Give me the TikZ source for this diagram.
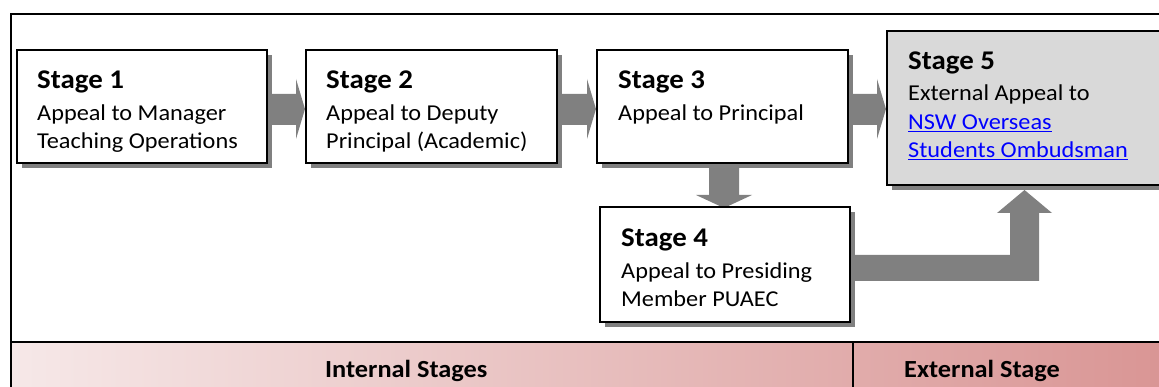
\documentclass[tikz,border=0pt]{standalone}
\usepackage{fontspec}
\setmainfont{Carlito}[FakeStretch=1.07]
\usetikzlibrary{calc,shadows,backgrounds}
\definecolor{arrgray}{HTML}{808080}
\definecolor{boxgray}{HTML}{D9D9D9}
\definecolor{bandL}{HTML}{F6E8E8}
\definecolor{bandR}{HTML}{D99594}
\definecolor{linkblue}{HTML}{0000FF}
\tikzset{
  stagebox/.style={draw=black, line width=1.5pt, fill=white, anchor=north west,
    inner sep=0pt, outer sep=0pt,
    drop shadow={shadow xshift=5pt, shadow yshift=-5pt, opacity=1, fill=arrgray}},
  headtxt/.style={anchor=base west, inner sep=0pt, font=\fontsize{27}{32}\selectfont\bfseries},
  bodytxt/.style={anchor=base west, inner sep=0pt, font=\fontsize{22.7}{27.5}\selectfont},
  bandtxt/.style={anchor=base west, inner sep=0pt, font=\fontsize{24.6}{28}\selectfont\bfseries},
  arr/.style={fill=arrgray, draw=none},
  frameline/.style={draw=black, line width=1.5pt},
}
\newcommand\harrow[2]{%
  \fill[arr] let \p1=(#1.east), \p2=(#2.west) in
    (\x1,-94pt) -- (\x2-10pt,-94pt) -- (\x2-10pt,-79pt) -- (\x2-1pt,-109pt)
    -- (\x2-10pt,-139pt) -- (\x2-10pt,-125pt) -- (\x1,-125pt) -- cycle;}
\begin{document}
\begin{tikzpicture}[x=1pt,y=-1pt]
\useasboundingbox (0,0) rectangle (1159,387);
\clip (0,0) rectangle (1159,387);
% outer frame and band
\shade[left color=bandL, right color=bandR] (11,342) rectangle (1170,400);
\draw[frameline] (11,400) -- (11,14) -- (1170,14);
\draw[frameline] (11,342) -- (1170,342);
\draw[frameline] (853,342) -- (853,400);
\node[bandtxt] (lint) at (325,377) {Internal Stages};
\node[bandtxt] (lext) at (904,377) {External Stage};
% boxes
\node[stagebox, minimum width=250pt, minimum height=113pt] (s1) at (17,50) {};
\node[stagebox, minimum width=251pt, minimum height=113pt] (s2) at (306,50) {};
\node[stagebox, minimum width=251pt, minimum height=113pt] (s3) at (597,50) {};
\node[stagebox, minimum width=250pt, minimum height=115pt] (s4) at (600,207) {};
\node[stagebox, fill=boxgray, minimum width=290pt, minimum height=154pt] (s5) at (887,31) {};
% texts
\node[headtxt] (s1h) at (37,89) {Stage 1};
\node[bodytxt] (s1b) at (37,121) {\parbox[t]{240pt}{Appeal to Manager\\Teaching Operations}};
\node[headtxt] (s2h) at (326,89) {Stage 2};
\node[bodytxt] (s2b) at (326,121) {\parbox[t]{240pt}{Appeal to Deputy\\Principal (Academic)}};
\node[headtxt] (s3h) at (618,89) {Stage 3};
\node[bodytxt] (s3b) at (618,121) {\parbox[t]{240pt}{Appeal to Principal}};
\node[headtxt] (s4h) at (621,247) {Stage 4};
\node[bodytxt] (s4b) at (621,279) {\parbox[t]{240pt}{Appeal to Presiding\\Member PUAEC}};
\node[headtxt] (s5h) at (908,70) {Stage 5};
\node[bodytxt, font=\fontsize{22.7}{28.5}\selectfont] (s5b) at (908,101) {\parbox[t]{260pt}{External Appeal to\\
  {\color{linkblue}\underline{NSW Overseas}}\\
  {\color{linkblue}\underline{Students Ombudsman}}}};
% arrows
\begin{pgfonlayer}{background}
\harrow{s1}{s2}
\harrow{s2}{s3}
\harrow{s3}{s5}
\fill[arr] let \p1=(s3.south), \p2=(s4.north) in
  (709pt,\y1) -- (739pt,\y1) -- (739pt,-195pt) -- (752pt,-195pt) -- (724pt,\y2-1pt)
  -- (696pt,-195pt) -- (709pt,-195pt) -- cycle;
\fill[arr] let \p1=(s4.east), \p2=(s5.south) in
  (\x1,-255pt) -- (1010pt,-255pt) -- (1010pt,-213pt) -- (997pt,-213pt)
  -- (1024.5pt,\y2-5pt) -- (1052pt,-213pt) -- (1039pt,-213pt) -- (1039pt,-281pt)
  -- (\x1,-281pt) -- cycle;
\end{pgfonlayer}
\end{tikzpicture}
\end{document}
